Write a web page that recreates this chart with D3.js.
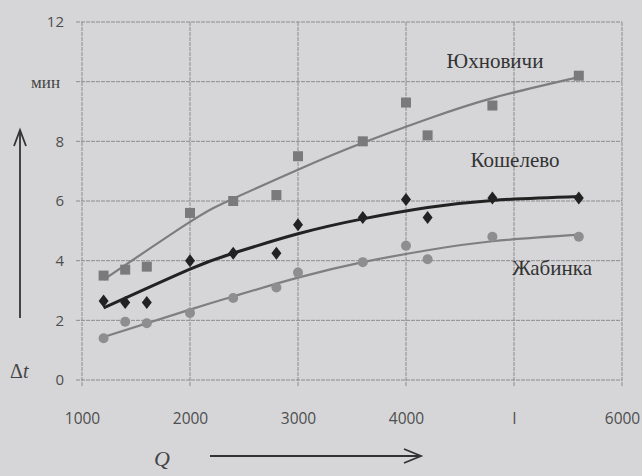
<!DOCTYPE html>
<html><head><meta charset="utf-8">
<script src="https://cdn.jsdelivr.net/npm/d3@7/dist/d3.min.js"></script>
<style>body{margin:0;background:#d6d6d8;}svg{display:block;}</style>
</head><body>
<svg id="c" width="642" height="476"></svg>
<script>
// ---- data ----
const xTicks = [1000, 2000, 3000, 4000, 5000, 6000];
const xTickLabels = ["1000", "2000", "3000", "4000", "I", "6000"];
const yTicks = [0, 2, 4, 6, 8, 10, 12];
const yTickLabels = ["0", "2", "4", "6", "8", "мин", "12"];

const qObs = [1200, 1400, 1600, 2000, 2400, 2800, 3000, 3600, 4000, 4200, 4800, 5600];
const yukhnovichi = [3.5, 3.7, 3.8, 5.6, 6.0, 6.2, 7.5, 8.0, 9.3, 8.2, 9.2, 10.2];
const koshelevo   = [2.65, 2.6, 2.6, 4.0, 4.25, 4.25, 5.2, 5.45, 6.05, 5.45, 6.1, 6.1];
const zhabinka    = [1.4, 1.95, 1.9, 2.25, 2.75, 3.1, 3.6, 3.95, 4.5, 4.05, 4.8, 4.8];

const qTrend = [1200, 2000, 2400, 3000, 3600, 4200, 4800, 5600];
const yukhTrend = [3.36, 5.3, 6.08, 7.05, 7.95, 8.75, 9.45, 10.15];
const koshTrend = [2.42, 3.72, 4.25, 4.9, 5.4, 5.78, 6.02, 6.15];
const zhabTrend = [1.44, 2.36, 2.8, 3.43, 3.95, 4.35, 4.65, 4.87];

const seriesNames = ["Юхновичи", "Кошелево", "Жабинка"];

// ---- layout ----
const svg = d3.select("#c");
const x = d3.scaleLinear().domain([1000, 6000]).range([82, 622]);
const y = d3.scaleLinear().domain([0, 12]).range([380, 22]);

svg.append("rect").attr("width", 642).attr("height", 476).attr("fill", "#d6d6d8");

// grid
const grid = svg.append("g");
grid.selectAll("line.h").data(yTicks).join("line")
  .attr("x1", x(1000) - 6).attr("x2", x(6000))
  .attr("y1", d => y(d)).attr("y2", d => y(d))
  .attr("stroke", "#8c8c8e").attr("stroke-width", 1).attr("stroke-dasharray", "4,1");
grid.selectAll("line.v").data(xTicks).join("line")
  .attr("x1", d => x(d)).attr("x2", d => x(d))
  .attr("y1", y(12)).attr("y2", y(0) + 6)
  .attr("stroke", "#8c8c8e").attr("stroke-width", 1).attr("stroke-dasharray", "4,1");

// axes labels
const yAxis = d3.axisLeft(y).tickValues(yTicks).tickSize(0).tickPadding(0)
  .tickFormat((d, i) => yTickLabels[i]);
const ya = svg.append("g").attr("transform", "translate(64,0)").call(yAxis);
ya.select(".domain").remove();
ya.selectAll("text").attr("font-family", "'Open Sans', sans-serif").attr("font-size", 15).attr("fill", "#4e4e4e");
ya.selectAll("text").filter(function() { return this.textContent === "мин"; })
  .attr("font-family", "'Liberation Serif', serif").attr("font-size", 17).attr("fill", "#444")
  .attr("x", -4);

const xAxis = d3.axisBottom(x).tickValues(xTicks).tickSize(0).tickPadding(0)
  .tickFormat((d, i) => xTickLabels[i]);
const xa = svg.append("g").attr("transform", "translate(0,413)").call(xAxis);
xa.select(".domain").remove();
xa.selectAll("text").attr("font-family", "'Open Sans', sans-serif").attr("font-size", 15.5).attr("fill", "#4e4e4e");

// trend lines
const line = d3.line().x(d => x(d[0])).y(d => y(d[1])).curve(d3.curveNatural);
const trends = [
  {v: yukhTrend, c: "#7d7d7f", w: 2.2},
  {v: koshTrend, c: "#222", w: 3},
  {v: zhabTrend, c: "#7f7f81", w: 2.2}
];
trends.forEach(t => {
  svg.append("path").datum(qTrend.map((q, i) => [q, t.v[i]]))
    .attr("d", line).attr("fill", "none").attr("stroke", t.c).attr("stroke-width", t.w);
});

// markers
svg.append("g").selectAll("rect").data(qObs.map((q, i) => [q, yukhnovichi[i]])).join("rect")
  .attr("x", d => x(d[0]) - 5).attr("y", d => y(d[1]) - 5).attr("width", 10).attr("height", 10)
  .attr("fill", "#7a7a7c");
svg.append("g").selectAll("path").data(qObs.map((q, i) => [q, koshelevo[i]])).join("path")
  .attr("d", "M0,-6.5L5,0L0,6.5L-5,0Z")
  .attr("transform", d => `translate(${x(d[0])},${y(d[1])})`)
  .attr("fill", "#222");
svg.append("g").selectAll("circle").data(qObs.map((q, i) => [q, zhabinka[i]])).join("circle")
  .attr("cx", d => x(d[0])).attr("cy", d => y(d[1])).attr("r", 5)
  .attr("fill", "#8e8e90");

// series labels
const labPos = [[495, 68], [515, 167], [552, 275]];
seriesNames.forEach((n, i) => {
  svg.append("text").attr("x", labPos[i][0]).attr("y", labPos[i][1]).attr("text-anchor", "middle")
    .attr("font-family", "'Liberation Serif', serif").attr("font-size", 21).attr("fill", "#333").text(n);
});

// axis arrows and titles
const ag = svg.append("g").attr("stroke", "#333").attr("stroke-width", 1.8).attr("fill", "none");
ag.append("line").attr("x1", 20).attr("x2", 20).attr("y1", 318).attr("y2", 131);
ag.append("path").attr("d", "M14,146 L20,130 L26,146");
ag.append("line").attr("x1", 210).attr("x2", 420).attr("y1", 456).attr("y2", 456);
ag.append("path").attr("d", "M404,449 L421,456 L404,463");

const dt = svg.append("text").attr("x", 10).attr("y", 378)
  .attr("font-family", "'Liberation Serif', serif").attr("font-size", 20).attr("fill", "#444");
dt.append("tspan").text("Δ");
dt.append("tspan").attr("font-style", "italic").text("t");
svg.append("text").attr("x", 154).attr("y", 466)
  .attr("font-family", "'Liberation Serif', serif").attr("font-style", "italic")
  .attr("font-size", 22).attr("fill", "#444").text("Q");
</script>
</body></html>
